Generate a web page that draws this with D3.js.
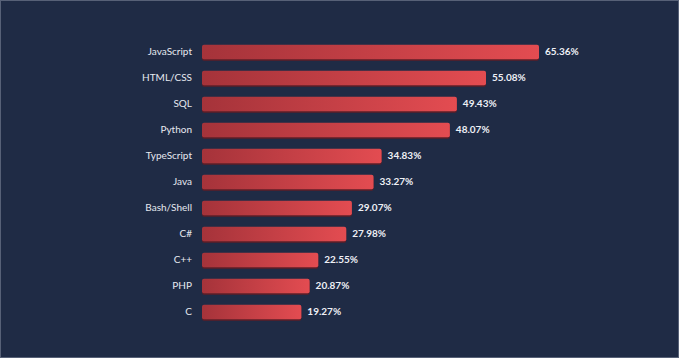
<!DOCTYPE html>
<html>
<head>
<meta charset="utf-8">
<script src="https://cdn.jsdelivr.net/npm/d3@7"></script>
<style>
  html, body { margin: 0; padding: 0; background: #1f2b45; }
  svg { display: block; }
</style>
</head>
<body>
<div id="chart"></div>
<script>
// Languages and share of respondents (%)
const languages = ['JavaScript', 'HTML/CSS', 'SQL', 'Python', 'TypeScript', 'Java', 'Bash/Shell', 'C#', 'C++', 'PHP', 'C'];
const shares = [65.36, 55.08, 49.43, 48.07, 34.83, 33.27, 29.07, 27.98, 22.55, 20.87, 19.27];

const width = 679, height = 358;
const margin = { top: 39, left: 202 };

const svg = d3.select('#chart').append('svg')
  .attr('width', width)
  .attr('height', height);

svg.append('rect')
  .attr('width', width).attr('height', height)
  .attr('fill', '#1f2b45');

// thin light frame around the picture
svg.append('rect')
  .attr('x', 0.5).attr('y', 0.5)
  .attr('width', width - 1).attr('height', height - 1)
  .attr('fill', 'none')
  .attr('stroke', '#7d8699')
  .attr('stroke-opacity', 0.6);

const defs = svg.append('defs');
const grad = defs.append('linearGradient')
  .attr('id', 'barGrad')
  .attr('x1', '0%').attr('x2', '100%').attr('y1', '0%').attr('y2', '0%');
grad.append('stop').attr('offset', '0%').attr('stop-color', '#a5333a');
grad.append('stop').attr('offset', '100%').attr('stop-color', '#e34c51');

const x = d3.scaleLinear()
  .domain([0, 65.36])
  .range([0, 337]);

const y = d3.scaleBand()
  .domain(languages)
  .range([0, 26 * languages.length])
  .paddingInner(0.44)
  .paddingOuter(0.22);

const g = svg.append('g')
  .attr('transform', `translate(${margin.left},${margin.top})`);

const rows = g.selectAll('.row')
  .data(languages.map((d, i) => ({ name: d, value: shares[i] })))
  .join('g')
  .attr('class', 'row')
  .attr('transform', d => `translate(0,${y(d.name)})`);

// shadow under each bar
rows.append('rect')
  .attr('x', 0)
  .attr('y', 1.5)
  .attr('width', d => x(d.value))
  .attr('height', y.bandwidth())
  .attr('rx', 2)
  .attr('fill', '#5e1e27');

rows.append('rect')
  .attr('x', 0)
  .attr('y', 0)
  .attr('width', d => x(d.value))
  .attr('height', y.bandwidth())
  .attr('rx', 2)
  .attr('fill', 'url(#barGrad)');

rows.append('text')
  .attr('x', -10)
  .attr('y', y.bandwidth() / 2)
  .attr('dy', '0.35em')
  .attr('text-anchor', 'end')
  .attr('fill', '#e6e9f0')
  .style('font-family', 'Lato, "Open Sans", sans-serif')
  .style('font-size', '10px')
  .text(d => d.name);

rows.append('text')
  .attr('x', d => x(d.value) + 6)
  .attr('y', y.bandwidth() / 2)
  .attr('dy', '0.35em')
  .attr('fill', '#eef0f5')
  .style('font-family', 'Lato, "Open Sans", sans-serif')
  .style('font-size', '10px')
  .style('font-weight', 'bold')
  .text(d => d.value.toFixed(2) + '%');
</script>
</body>
</html>
